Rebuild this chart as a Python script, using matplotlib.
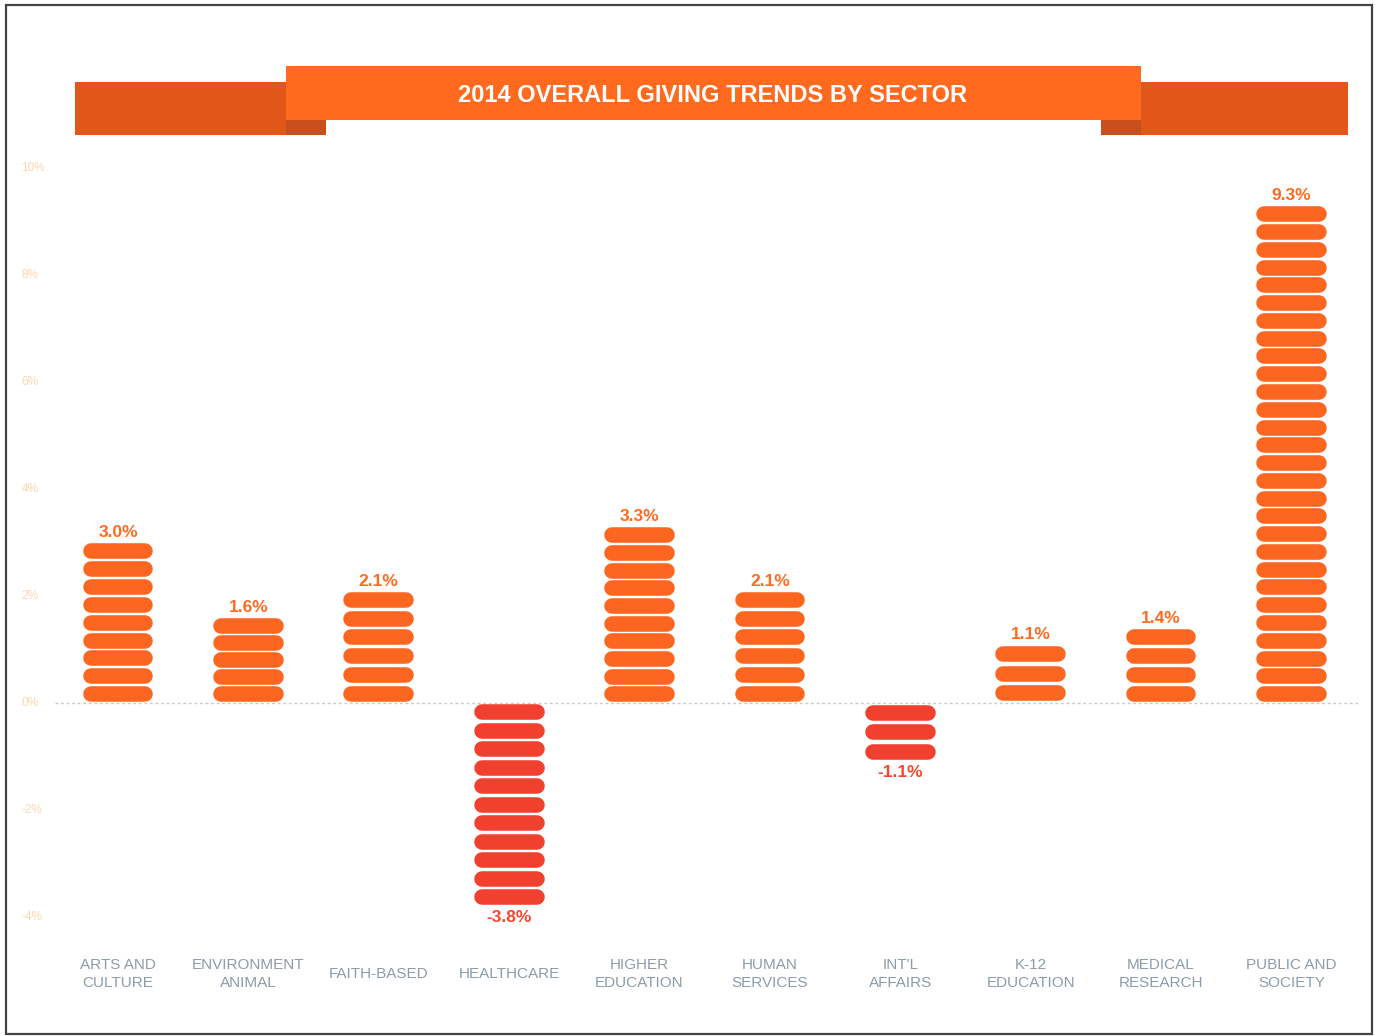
import matplotlib
matplotlib.use('Agg')
import matplotlib.pyplot as plt
from matplotlib.patches import Rectangle

plt.rcParams['font.family'] = ['Liberation Sans', 'DejaVu Sans']

# giving growth by sector, 2014 (percent)
sectors = ['ARTS AND\nCULTURE', 'ENVIRONMENT\nANIMAL', 'FAITH-BASED', 'HEALTHCARE',
           'HIGHER\nEDUCATION', 'HUMAN\nSERVICES', "INT'L\nAFFAIRS", 'K-12\nEDUCATION',
           'MEDICAL\nRESEARCH', 'PUBLIC AND\nSOCIETY']
growth = [3.0, 1.6, 2.1, -3.8, 3.3, 2.1, -1.1, 1.1, 1.4, 9.3]
y_ticks = [-4, -2, 0, 2, 4, 6, 8, 10]
title = '2014 OVERALL GIVING TRENDS BY SECTOR'

POS = '#FC6621'
NEG = '#F2402F'
POS_TXT = '#FF6A1F'
NEG_TXT = '#F5472F'
per_pill = 1 / 3  # each pill stands for about a third of a point

W, H = 1375, 1036
fig = plt.figure(figsize=(W / 100, H / 100), dpi=100)
fig.patch.set_facecolor('white')

# overlay in pixel units for the frame and the title ribbon
bg = fig.add_axes([0, 0, 1, 1])
bg.set_xlim(0, W)
bg.set_ylim(H, 0)
bg.axis('off')
bg.add_patch(Rectangle((6, 5), 1366, 1029, fill=False, ec='#444444', lw=1.6))
bg.add_patch(Rectangle((75, 82), 251, 53, fc='#E2561A', ec='none'))
bg.add_patch(Rectangle((1101, 82), 247, 53, fc='#E2561A', ec='none'))
bg.add_patch(Rectangle((286, 120), 40, 15, fc='#C8501E', ec='none'))
bg.add_patch(Rectangle((1101, 120), 40, 15, fc='#C8501E', ec='none'))
bg.add_patch(Rectangle((286, 66), 855, 54, fc='#FF6A1F', ec='none'))
bg.text(713, 95, title, color='white', fontsize=17, fontweight='bold',
        ha='center', va='center')

# chart axes: 53.5 px per point, categories 130.4 px apart
ax = fig.add_axes([0.04, 0.0632, 0.949, 0.8005])
ax.set_xlim(-0.483, 9.525)
ax.set_ylim(-5, 10.5)
ax.axis('off')
ax.patch.set_alpha(0)

ax.axhline(0, color='#C8C8C8', lw=1, ls=(0, (2, 2)), zorder=1)

half = 0.21
for i, v in enumerate(growth):
    n = max(1, round(abs(v) / per_pill))
    step = abs(v) / n
    sign = 1 if v >= 0 else -1
    ys = [sign * (k + 0.5) * step for k in range(n)]
    col = POS if v >= 0 else NEG
    pills = ax.hlines(ys, i - half, i + half, colors=col, lw=11.2, zorder=3)
    pills.set_capstyle('round')
    if v >= 0:
        ax.text(i, v + 0.04, f'{v:.1f}%', ha='center', va='bottom', color=POS_TXT,
                fontsize=12.5, fontweight='bold')
    else:
        ax.text(i, v - 0.06, f'{v:.1f}%', ha='center', va='top', color=NEG_TXT,
                fontsize=12.5, fontweight='bold')
    ax.text(i, -5.07, sectors[i], ha='center', va='center', color='#8C9BAA',
            fontsize=11, linespacing=1.4)

for t in y_ticks:
    ax.text(-0.74, t, f'{t}%', ha='left', va='center', color='#FDD6AE', fontsize=8.5)

fig.savefig('out.png', dpi=100, facecolor='white')
